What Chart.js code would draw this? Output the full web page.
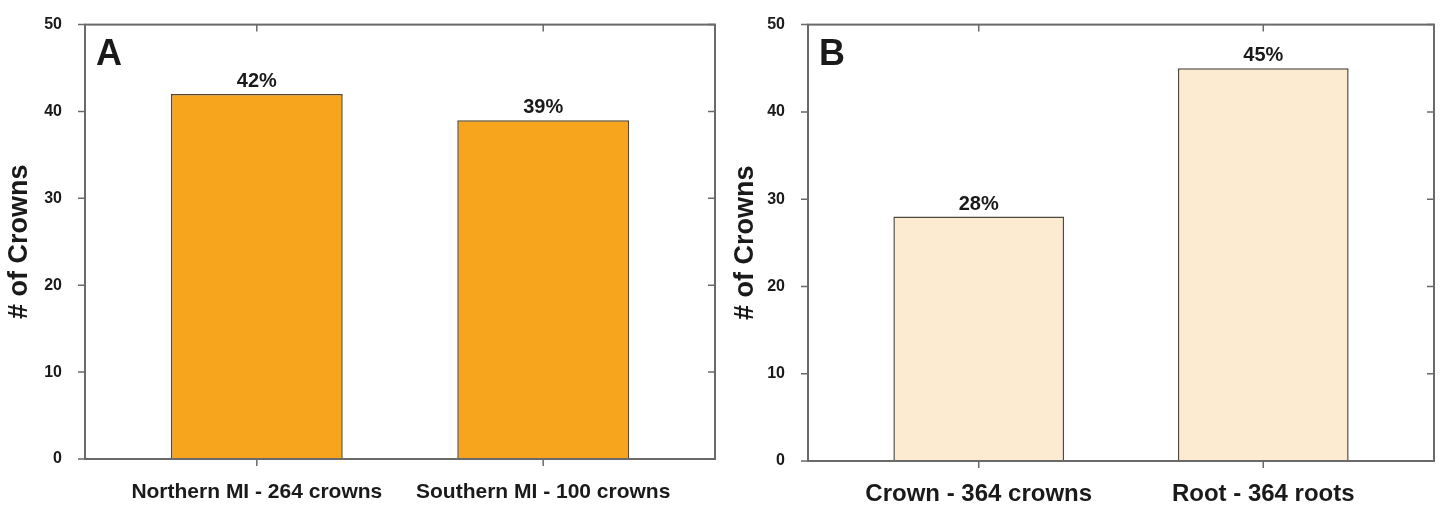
<!DOCTYPE html>
<html>
<head>
<meta charset="utf-8">
<script src="https://cdn.jsdelivr.net/npm/chart.js@4"></script>
<style>
  body { margin: 0; background: #fff; width: 1447px; height: 508px; overflow: hidden; position: relative; }
  .panel { position: absolute; top: 0; width: 725px; height: 508px; }
</style>
</head>
<body>
<div class="panel" style="left:0"><canvas id="chartA"></canvas></div>
<div class="panel" style="left:722px"><canvas id="chartB"></canvas></div>
<script>
// Panel A data
const categoriesA = ['Northern MI - 264 crowns', 'Southern MI - 100 crowns'];
const valuesA = [42, 39];
const percentA = ['42%', '39%'];

// Panel B data
const categoriesB = ['Crown - 364 crowns', 'Root - 364 roots'];
const valuesB = [28, 45];
const percentB = ['28%', '45%'];

const yTicks = [0, 10, 20, 30, 40, 50];

const axisColor = '#6a6a6a';
const textColor = '#1a1a1a';

// Draws the box round the plot, the ticks, the % labels and the panel letter
const framePlugin = {
    id: 'frame',
    afterDatasetsDraw(chart, args, opts) {
        const ctx = chart.ctx;
        const area = chart.chartArea;
        const x = chart.scales.x;
        const y = chart.scales.y;
        const tl = 7;
        ctx.save();
        ctx.strokeStyle = axisColor;
        ctx.lineWidth = 2;
        ctx.strokeRect(area.left, area.top, area.right - area.left, area.bottom - area.top);

        ctx.beginPath();
        // y ticks: left outward, right inward
        yTicks.forEach((v) => {
            const py = y.getPixelForValue(v);
            ctx.moveTo(area.left - tl, py);
            ctx.lineTo(area.left, py);
            ctx.moveTo(area.right - tl, py);
            ctx.lineTo(area.right, py);
        });
        // x ticks: bottom outward, top inward
        x.ticks.forEach((t) => {
            const px = x.getPixelForValue(t.value);
            ctx.moveTo(px, area.bottom);
            ctx.lineTo(px, area.bottom + tl);
            ctx.moveTo(px, area.top);
            ctx.lineTo(px, area.top + tl);
        });
        ctx.lineWidth = 1.5;
        ctx.stroke();

        // percentage labels above the bars
        ctx.fillStyle = textColor;
        ctx.font = 'bold 20px "Liberation Sans", Arial, sans-serif';
        ctx.textAlign = 'center';
        ctx.textBaseline = 'alphabetic';
        const meta = chart.getDatasetMeta(0);
        meta.data.forEach((bar, i) => {
            ctx.fillText(opts.labels[i], bar.x, bar.y - 7);
        });

        // panel letter
        ctx.font = 'bold 36px "Liberation Sans", Arial, sans-serif';
        ctx.textAlign = 'left';
        ctx.fillText(opts.letter, area.left + 11, area.top + 40);
        ctx.restore();
    }
};

function makeChart(id, categories, values, labels, letter, color, border, cfg) {
    const ctx = document.getElementById(id).getContext('2d');
    return new Chart(ctx, {
        type: 'bar',
        data: {
            datasets: [{
                data: values.map((v, i) => ({ x: i + 1, y: v })),
                backgroundColor: color,
                borderColor: border,
                borderWidth: 1.5,
                barPercentage: 0.6,
                categoryPercentage: 1,
            }],
        },
        options: {
            responsive: true,
            maintainAspectRatio: false,
            animation: false,
            layout: { padding: { top: cfg.top, right: cfg.right, left: 0, bottom: 0 } },
            plugins: {
                legend: { display: false },
                tooltip: { enabled: false },
                frame: { labels: labels, letter: letter },
            },
            scales: {
                x: {
                    type: 'linear',
                    offset: false,
                    min: 0.4,
                    max: 2.6,
                    afterBuildTicks: (s) => { s.ticks = categories.map((c, i) => ({ value: i + 1 })); },
                    afterFit: (s) => { s.height = cfg.xHeight; },
                    grid: { display: false },
                    border: { display: false },
                    ticks: {
                        callback: (v) => categories[v - 1],
                        color: textColor,
                        padding: cfg.xPad,
                        maxRotation: 0,
                        autoSkip: false,
                        font: { family: '"Liberation Sans", Arial, sans-serif', size: cfg.xFont, weight: 'bold' },
                    },
                },
                y: {
                    min: 0,
                    max: 50,
                    afterBuildTicks: (s) => { s.ticks = yTicks.map((v) => ({ value: v })); },
                    afterFit: (s) => { s.width = cfg.yWidth; },
                    grid: { display: false },
                    border: { display: false },
                    ticks: {
                        color: textColor,
                        padding: 15,
                        font: { family: '"Liberation Sans", Arial, sans-serif', size: 16, weight: 'bold' },
                    },
                    title: {
                        display: true,
                        text: '# of Crowns',
                        color: textColor,
                        padding: { top: cfg.titlePad, bottom: 0 },
                        font: { family: '"Liberation Sans", Arial, sans-serif', size: 27, weight: 'bold' },
                    },
                },
            },
        },
        plugins: [framePlugin],
    });
}

makeChart('chartA', categoriesA, valuesA, percentA, 'A', '#F7A51D', '#5a4528',
    { top: 19, right: 10, xHeight: 49, yWidth: 85, xPad: 13, xFont: 21, titlePad: 3 });
makeChart('chartB', categoriesB, valuesB, percentB, 'B', '#FDEBD1', '#4f4a40',
    { top: 21, right: 13, xHeight: 47, yWidth: 86, xPad: 11, xFont: 24, titlePad: 7 });
</script>
</body>
</html>
